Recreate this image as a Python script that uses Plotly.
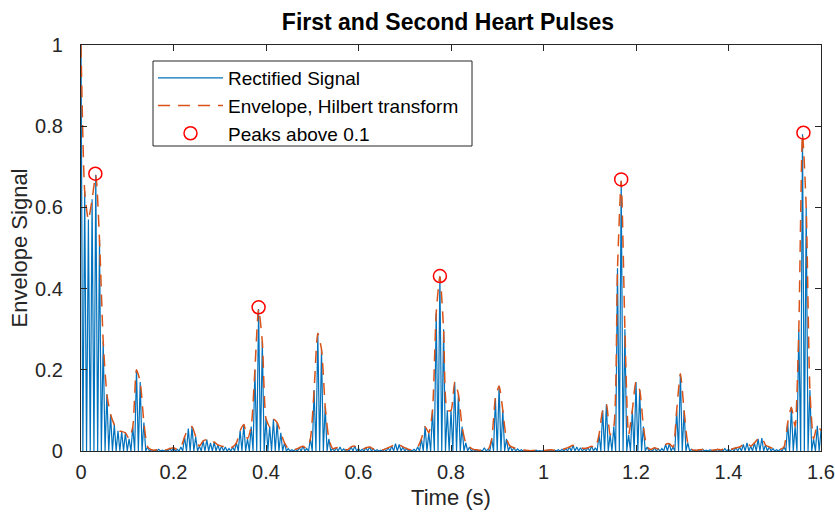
import plotly.graph_objects as go

# ---- data ----
DT = 0.008  # spacing of rectified-signal half-cycles (s)
rect_heights = [
    1.00, 0.64, 0.57, 0.62, 0.68, 0.52, 0.27, 0.14, 0.09, 0.065,
    0.05, 0.048, 0.045, 0.03, 0.06, 0.20, 0.17, 0.07, 0.01, 0.003,
    0.002, 0.004, 0.002, 0.003, 0.006, 0.008, 0.004, 0.01, 0.035, 0.055,
    0.06, 0.035, 0.012, 0.025, 0.028, 0.02, 0.022, 0.015, 0.012, 0.01,
    0.006, 0.01, 0.02, 0.05, 0.065, 0.03, 0.06, 0.20, 0.35, 0.27,
    0.08, 0.06, 0.078, 0.07, 0.045, 0.02, 0.006, 0.003, 0.004, 0.008,
    0.012, 0.006, 0.03, 0.15, 0.29, 0.25, 0.11, 0.03, 0.006, 0.008,
    0.01, 0.005, 0.003, 0.01, 0.012, 0.006, 0.004, 0.008, 0.01, 0.005,
    0.003, 0.002, 0.004, 0.008, 0.012, 0.018, 0.016, 0.01, 0.006, 0.003,
    0.004, 0.01, 0.03, 0.06, 0.045, 0.10, 0.34, 0.43, 0.30, 0.10,
    0.10, 0.17, 0.14, 0.06, 0.02, 0.01, 0.004, 0.003, 0.002, 0.008,
    0.004, 0.03, 0.13, 0.16, 0.10, 0.03, 0.012, 0.008, 0.005, 0.003,
    0.002, 0.001, 0.001, 0.002, 0.001, 0.001, 0.002, 0.003, 0.002, 0.003,
    0.004, 0.006, 0.01, 0.014, 0.01, 0.008, 0.006, 0.008, 0.012, 0.008,
    0.04, 0.10, 0.115, 0.04, 0.06, 0.45, 0.665, 0.30, 0.04, 0.10,
    0.17, 0.15, 0.06, 0.01, 0.004, 0.008, 0.005, 0.006, 0.016, 0.018,
    0.01, 0.10, 0.19, 0.10, 0.02, 0.004, 0.002, 0.003, 0.004, 0.002,
    0.003, 0.002, 0.004, 0.003, 0.006, 0.004, 0.005, 0.008, 0.01, 0.016,
    0.02, 0.012, 0.02, 0.03, 0.032, 0.015, 0.01, 0.006, 0.003, 0.004,
    0.01, 0.07, 0.108, 0.06, 0.30, 0.78, 0.60, 0.15, 0.03, 0.062,
    0.05,
]
peak_times = [0.031, 0.384, 0.776, 1.168, 1.562]
peak_values = [0.683, 0.354, 0.431, 0.669, 0.784]

x_ticks = [0, 0.2, 0.4, 0.6, 0.8, 1, 1.2, 1.4, 1.6]
y_ticks = [0, 0.2, 0.4, 0.6, 0.8, 1]

# ---- build traces ----
spike_t = [k * DT for k in range(len(rect_heights))]
rx, ry = [], []
for t, h in zip(spike_t, rect_heights):
    rx += [t - DT / 2, t]
    ry += [0, h]
rx.append(spike_t[-1] + DT / 2)
ry.append(0)

FONT = "Liberation Sans, Arial, Helvetica, sans-serif"
INK = "#262626"

fig = go.Figure()
fig.add_trace(go.Scatter(
    x=rx, y=ry, mode="lines", name="Rectified Signal",
    line=dict(color="#0072BD", width=1.2),
))
fig.add_trace(go.Scatter(
    x=spike_t, y=rect_heights, mode="lines", name="Envelope, Hilbert transform",
    line=dict(color="#D95319", width=1.5, dash="12px,8px", shape="spline", smoothing=0.6),
))
fig.add_trace(go.Scatter(
    x=peak_times, y=peak_values, mode="markers", name="Peaks above 0.1",
    marker=dict(symbol="circle-open", size=13, color="#FF0000", line=dict(width=1.5, color="#FF0000")),
))

axis_common = dict(
    showline=True, linecolor=INK, linewidth=1.3, mirror="ticks",
    ticks="inside", ticklen=6, tickwidth=1.3, tickcolor=INK,
    showgrid=False, zeroline=False, automargin=False,
    tickfont=dict(family=FONT, size=20, color=INK),
)

# legend frame (plot area: x 81..821 px, y 45..451 px)
PX0, PW, PY0, PH = 81, 740, 451, 406
fig.add_shape(type="rect", xref="paper", yref="paper", layer="above",
              x0=(153 - PX0) / PW, x1=(472 - PX0) / PW,
              y0=(PY0 - 146) / PH, y1=(PY0 - 61) / PH,
              fillcolor="white", line=dict(color=INK, width=1))

fig.update_layout(
    width=835, height=514,
    margin=dict(l=81, r=14, t=45, b=63),
    paper_bgcolor="white", plot_bgcolor="white",
    font=dict(family=FONT, color=INK),
    title=dict(text="<b>First and Second Heart Pulses</b>", x=448 / 835, xanchor="center",
               y=1 - 22 / 514, yanchor="middle",
               font=dict(family=FONT, size=23, color="#000000")),
    xaxis=dict(range=[0, 1.6], tickvals=x_ticks, ticklabelstandoff=3,
               title=dict(text="Time (s)", font=dict(family=FONT, size=22, color=INK), standoff=7),
               **axis_common),
    yaxis=dict(range=[0, 1], tickvals=y_ticks, ticklabelstandoff=13,
               title=dict(text="Envelope Signal", font=dict(family=FONT, size=22, color=INK), standoff=1),
               **axis_common),
    legend=dict(x=(153 - PX0) / PW, y=(PY0 - 59) / PH, xanchor="left", yanchor="top",
                borderwidth=0, bgcolor="rgba(0,0,0,0)",
                font=dict(family=FONT, size=19, color="#000000"),
                itemwidth=65, tracegroupgap=0),
    showlegend=True,
)

fig.write_html("out.html")
